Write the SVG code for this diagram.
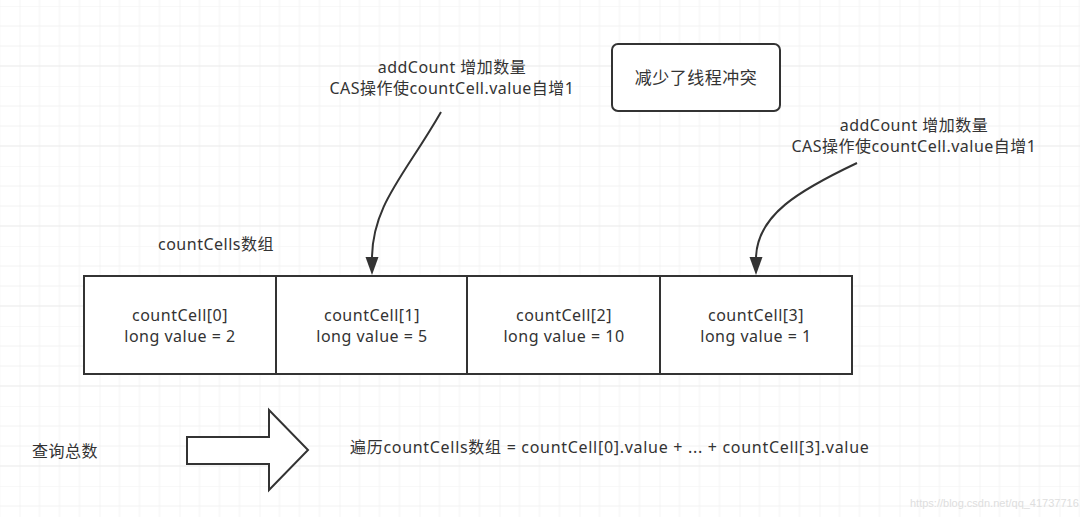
<svg xmlns="http://www.w3.org/2000/svg" width="1080" height="517" viewBox="0 0 1080 517">
  <defs>
    <pattern id="grid" patternUnits="userSpaceOnUse" x="19.5" y="6" width="80" height="80">
      <path d="M20,0 V80 M40,0 V80 M60,0 V80 M0,20 H80 M0,40 H80 M0,0 H80" fill="none" stroke="#f2f2f2" stroke-width="1"/>
      <path d="M0,0 V80 M0,60 H80" fill="none" stroke="#e9e9e9" stroke-width="1"/>
    </pattern>
    <marker id="head" markerUnits="userSpaceOnUse" markerWidth="20" markerHeight="14" refX="2" refY="6.5" orient="auto">
      <path d="M0,0 L18,6.5 L0,13 Z" fill="#333"/>
    </marker>
    <style>
      text { font-family: "Noto Sans", "Noto Sans CJK SC", sans-serif; font-size: 16px; letter-spacing: 0.5px; fill: #333; }
      .c { text-anchor: middle; }
      .big { font-size: 17px; }
      .wide { letter-spacing: 0.7px; }
      .cell { fill: #fff; stroke: #333; stroke-width: 2; }
      .link { fill: none; stroke: #333; stroke-width: 2; }
      .wm { font-family: "Liberation Sans", sans-serif; font-size: 11px; letter-spacing: 0; fill: #dedede; }
    </style>
  </defs>
  <rect width="1080" height="517" fill="#fff"/>
  <rect width="1080" height="517" fill="url(#grid)"/>

  <g id="label-top1">
    <text class="c" x="452" y="73">addCount 增加数量</text>
    <text class="c" x="452" y="94">CAS操作使countCell.value自增1</text>
  </g>
  <g id="note">
    <rect x="612" y="44" width="168" height="67" rx="6" class="cell"/>
    <text class="c big" x="696" y="84">减少了线程冲突</text>
  </g>
  <g id="label-top2">
    <text class="c" x="914" y="131">addCount 增加数量</text>
    <text class="c" x="914" y="152">CAS操作使countCell.value自增1</text>
  </g>
  <g id="array-label">
    <text x="158" y="250">countCells数组</text>
  </g>

  <g id="cell0">
    <rect x="84" y="276" width="192" height="98" class="cell"/>
    <text class="c" x="180" y="321">countCell[0]</text>
    <text class="c" x="180" y="342">long value = 2</text>
  </g>
  <g id="cell1">
    <rect x="276" y="276" width="191" height="98" class="cell"/>
    <text class="c" x="372" y="321">countCell[1]</text>
    <text class="c" x="372" y="342">long value = 5</text>
  </g>
  <g id="cell2">
    <rect x="467" y="276" width="193" height="98" class="cell"/>
    <text class="c" x="564" y="321">countCell[2]</text>
    <text class="c" x="564" y="342">long value = 10</text>
  </g>
  <g id="cell3">
    <rect x="660" y="276" width="192" height="98" class="cell"/>
    <text class="c" x="756" y="321">countCell[3]</text>
    <text class="c" x="756" y="342">long value = 1</text>
  </g>

  <g id="connectors">
    <path class="link" d="M441,112 C405,175 372,205 372,259" marker-end="url(#head)"/>
    <path class="link" d="M857,163 C800,190 756,215 756,259" marker-end="url(#head)"/>
  </g>

  <g id="query-label">
    <text x="32" y="457">查询总数</text>
  </g>
  <g id="block-arrow">
    <polygon points="187,437 269,437 269,410 308,450 269,490 269,464 187,464" fill="#fff" stroke="#333" stroke-width="2" stroke-linejoin="miter"/>
  </g>
  <g id="sum-label">
    <text class="wide" x="350" y="453">遍历countCells数组 = countCell[0].value + ... + countCell[3].value</text>
  </g>
  <text class="wm" x="910" y="507">https://blog.csdn.net/qq_41737716</text>
</svg>
